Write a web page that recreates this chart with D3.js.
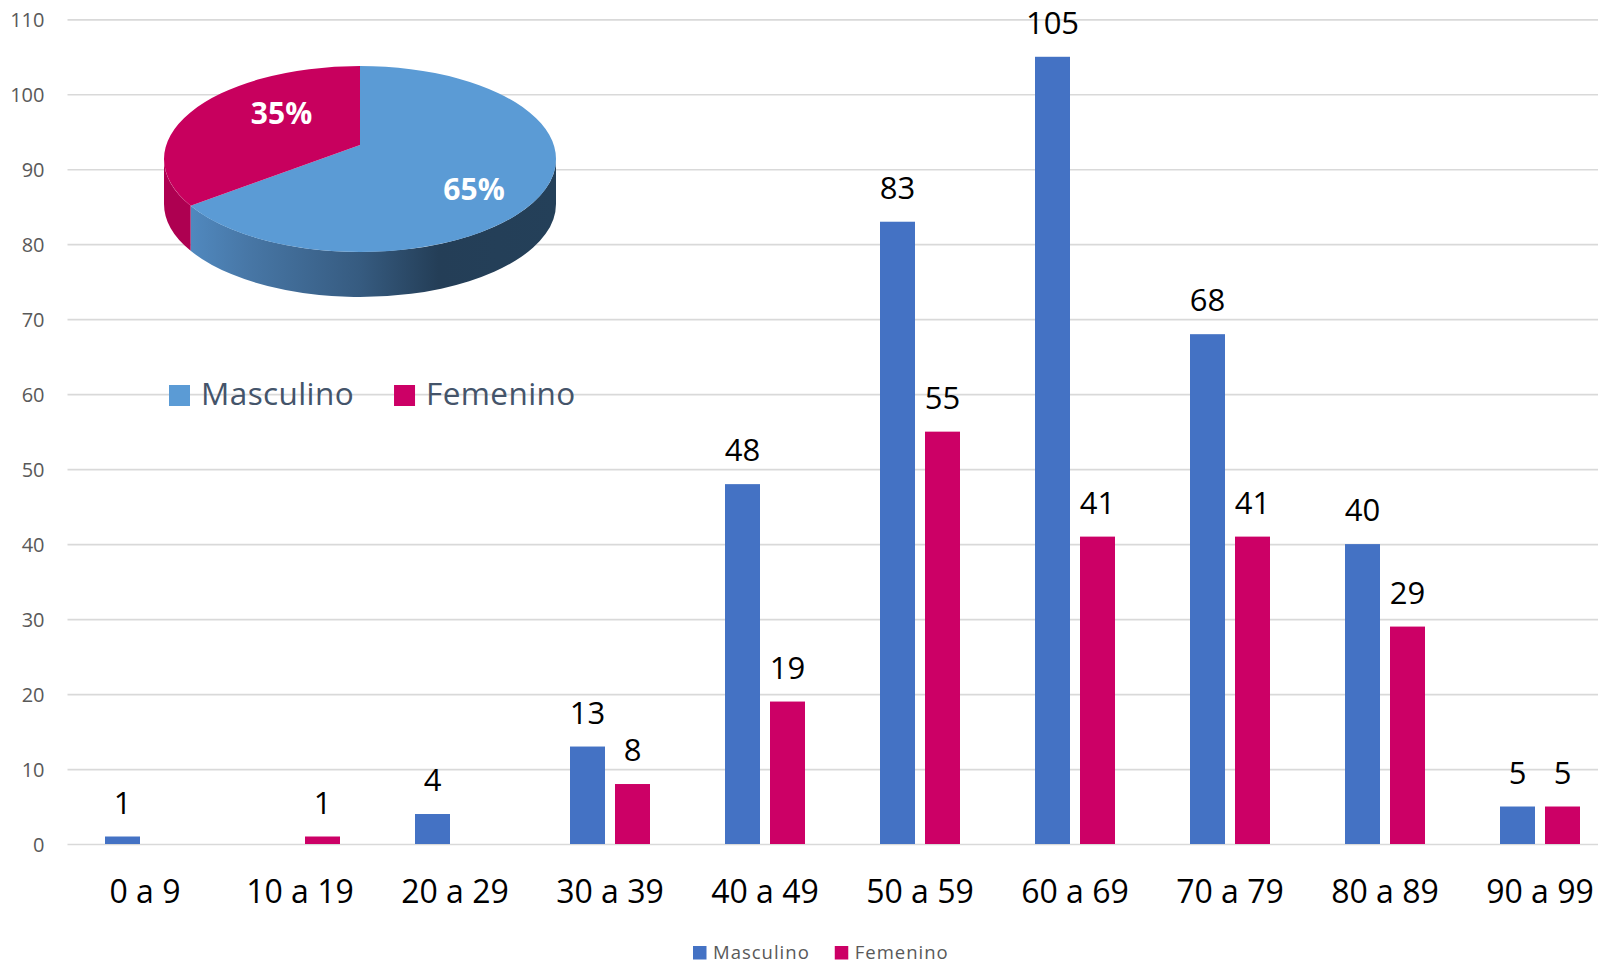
<!DOCTYPE html>
<html><head><meta charset="utf-8">
<script src="https://cdn.jsdelivr.net/npm/d3@7"></script>
<style>
html,body{margin:0;padding:0;background:#fff;overflow:hidden}
svg{display:block}
text{font-family:"Open Sans","Noto Sans",sans-serif}
</style></head>
<body>
<svg id="c" width="1598" height="964"></svg>
<script>
// ---- data ----
const categories = ["0 a 9","10 a 19","20 a 29","30 a 39","40 a 49","50 a 59","60 a 69","70 a 79","80 a 89","90 a 99"];
const seriesNames = ["Masculino","Femenino"];
const masculino = [1,0,4,13,48,83,105,68,40,5];
const femenino  = [0,1,0,8,19,55,41,41,29,5];
const yTicks = [0,10,20,30,40,50,60,70,80,90,100,110];
const barColors = ["#4472C4","#CC0066"];
const pieTopColors = ["#5B9BD5","#C8005E"];

// ---- layout ----
const svg = d3.select("#c");
const W = 1598, H = 964;
const plotL = 67.5, plotR = 1617.5, y0 = 844, yTop = 19.3;

const x = d3.scaleBand().domain(categories).range([plotL, plotR]).paddingInner(75/155).paddingOuter(75/310);
const x1 = d3.scaleBand().domain(seriesNames).range([0, x.bandwidth()]).paddingInner(10/45);
const y = d3.scaleLinear().domain([0,110]).range([y0, yTop]);

// gridlines + y labels
const gy = svg.append("g").attr("transform",`translate(${plotL},0)`)
  .call(d3.axisLeft(y).tickValues(yTicks).tickSize(-(W - plotL)).tickPadding(23));
gy.select(".domain").remove();
gy.selectAll(".tick line").attr("stroke","#D9D9D9").attr("stroke-width",1.7);
gy.selectAll(".tick text").attr("fill","#595959").style("font-size","20px")
  .style("font-family",'"Open Sans",sans-serif').attr("dy","0.36em");

// x labels
const gx = svg.append("g").attr("transform",`translate(0,${y0})`)
  .call(d3.axisBottom(x).tickSize(0).tickPadding(0));
gx.select(".domain").remove();
gx.selectAll(".tick text").attr("fill","#000").style("font-size","32px")
  .style("font-family",'"Open Sans",sans-serif').attr("y",59).attr("dy",0);

// bars
const rows = categories.map((c,i)=>({cat:c, vals:[masculino[i], femenino[i]]}));
const grp = svg.append("g").selectAll("g").data(rows).join("g")
  .attr("transform", d=>`translate(${x(d.cat)},0)`);
grp.selectAll("rect").data(d=>d.vals.map((v,j)=>({v, s:seriesNames[j], j})).filter(e=>e.v>0))
  .join("rect")
  .attr("x", e=>x1(e.s)).attr("width", x1.bandwidth())
  .attr("y", e=>y(e.v)).attr("height", e=>y0 - y(e.v))
  .attr("fill", e=>barColors[e.j]);
grp.selectAll("text.lbl").data(d=>d.vals.map((v,j)=>({v, s:seriesNames[j], j})).filter(e=>e.v>0))
  .join("text").attr("class","lbl")
  .attr("x", e=>x1(e.s)+x1.bandwidth()/2).attr("y", e=>y(e.v)-23)
  .attr("text-anchor","middle").attr("fill","#000").style("font-size","31px")
  .text(e=>e.v);

// ---- 3D pie ----
const totals = [d3.sum(masculino), d3.sum(femenino)];
const total = d3.sum(totals);
const pie = d3.pie().sort(null)(totals);
const cx = 360, cy = 159, rx = 196, ry = 93, depth = 45;
const apex = [360, 145];
const persp = 0.785; // perspective warp of angles (front looks larger)
const warp = a => { let w = Math.atan2(Math.sin(a), persp*Math.cos(a)); if (w < 0) w += 2*Math.PI; if (a >= 2*Math.PI - 1e-9) w = 2*Math.PI; return w; };
const P = (a, dy=0) => { const w = warp(a); return [cx + rx*Math.sin(w), cy - ry*Math.cos(w) + dy]; };

const defs = svg.append("defs");
const lg = defs.append("linearGradient").attr("id","sideBlue").attr("gradientUnits","userSpaceOnUse")
  .attr("x1",cx-rx).attr("x2",cx+rx).attr("y1",0).attr("y2",0);
[[0,"#5290C6"],[0.07,"#5088BE"],[0.22,"#4776A5"],[0.5,"#365B80"],[0.7,"#243E57"],[1,"#244059"]]
  .forEach(s=>lg.append("stop").attr("offset",s[0]).attr("stop-color",s[1]));
const sideColors = ["url(#sideBlue)","#AE0051"];

const pieG = svg.append("g");
// sides (only the front half)
pie.forEach((s,i)=>{
  const a0 = Math.max(s.startAngle, Math.PI/2), a1 = Math.min(s.endAngle, 3*Math.PI/2);
  if (a1 <= a0) return;
  const p0 = P(a0), p1 = P(a1), q1 = P(a1, depth), q0 = P(a0, depth);
  const large = (warp(a1) - warp(a0)) > Math.PI ? 1 : 0;
  const d = `M${p0}A${rx},${ry} 0 ${large} 1 ${p1}L${q1}A${rx},${ry} 0 ${large} 0 ${q0}Z`;
  pieG.append("path").attr("d", d).attr("fill", sideColors[i]);
});
// top faces
pie.forEach((s,i)=>{
  const p0 = P(s.startAngle), p1 = P(s.endAngle);
  const large = (warp(s.endAngle) - warp(s.startAngle)) > Math.PI ? 1 : 0;
  const d = `M${apex}L${p0}A${rx},${ry} 0 ${large} 1 ${p1}Z`;
  pieG.append("path").attr("d", d).attr("fill", pieTopColors[i]);
});
// percentage labels
const pieLabelPos = [[cx+114, cy+41],[cx-78.5, cy-35]];
pie.forEach((s,i)=>{
  pieG.append("text").attr("x", pieLabelPos[i][0]).attr("y", pieLabelPos[i][1])
    .attr("text-anchor","middle").attr("fill","#fff").style("font-size","30px").style("font-weight","700")
    .text(Math.round(s.value/total*100) + "%");
});

// pie legend
const pl = svg.append("g");
let lx = 169;
seriesNames.forEach((n,i)=>{
  pl.append("rect").attr("x",lx).attr("y",385).attr("width",21).attr("height",21).attr("fill", i===0?pieTopColors[0]:barColors[1]);
  const t = pl.append("text").attr("x",lx+32).attr("y",405).attr("fill","#44546A")
    .style("font-size","31.5px").style("letter-spacing","0.4px").text(n);
  lx = lx + 32 + t.node().getComputedTextLength() + 40;
});

// bottom legend
const bl = svg.append("g");
let bx = 693;
seriesNames.forEach((n,i)=>{
  bl.append("rect").attr("x",bx).attr("y",946).attr("width",13.5).attr("height",13.5).attr("fill",barColors[i]);
  const t = bl.append("text").attr("x",bx+20).attr("y",958.5).attr("fill","#595959")
    .style("font-size","18.5px").style("letter-spacing","1px").text(n);
  bx = bx + 20 + t.node().getComputedTextLength() + 25;
});
</script>
</body></html>
